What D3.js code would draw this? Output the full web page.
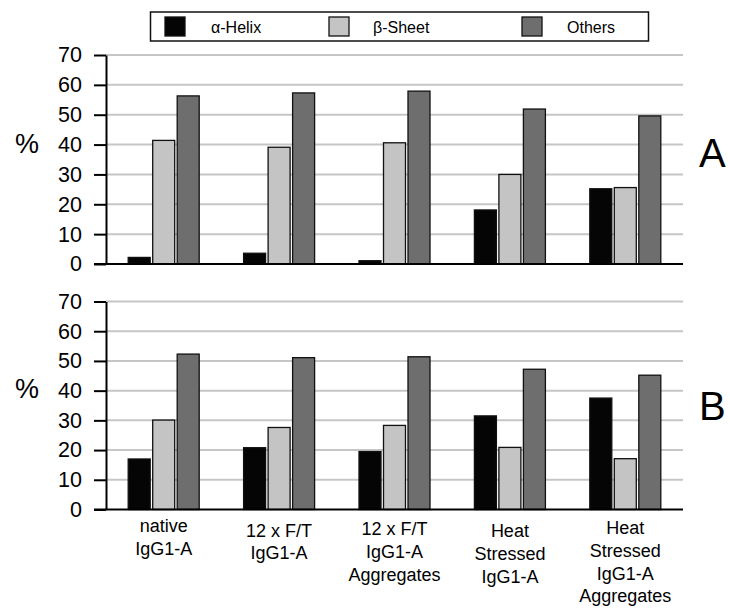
<!DOCTYPE html>
<html>
<head>
<meta charset="utf-8">
<script src="https://cdn.jsdelivr.net/npm/d3@7"></script>
<style>
  body { margin: 0; background: #fff; }
  svg { display: block; font-family: "Liberation Sans", Arial, sans-serif; }
</style>
</head>
<body>
<div id="chart"></div>
<script>
// categories (multi-line labels)
const categories = [
	["native", "IgG1-A"],
	["12 x F/T", "IgG1-A"],
	["12 x F/T", "IgG1-A", "Aggregates"],
	["Heat", "Stressed", "IgG1-A"],
	["Heat", "Stressed", "IgG1-A", "Aggregates"]
];
const seriesNames = ["\u03b1-Helix", "\u03b2-Sheet", "Others"];
const seriesColors = ["#050505", "#c4c4c4", "#6e6e6e"];

// panel A values, per category: helix, sheet, others
const helixA = [2.2, 3.6, 1.1, 18.1, 25.2];
const sheetA = [41.4, 39.1, 40.6, 30.0, 25.6];
const othersA = [56.3, 57.3, 57.9, 51.9, 49.6];

// panel B values
const helixB = [17.0, 20.8, 19.5, 31.5, 37.5];
const sheetB = [30.1, 27.6, 28.3, 20.9, 17.1];
const othersB = [52.3, 51.1, 51.4, 47.2, 45.2];

const yTicks = [0, 10, 20, 30, 40, 50, 60, 70];

const W = 730, H = 609;
const svg = d3.select('#chart').append('svg')
	.attr('width', W).attr('height', H);

const x = d3.scaleBand()
	.domain(d3.range(categories.length))
	.range([106, 683])
	.padding(0);

const barW = 22, barStep = 24.5;

function drawPanel(top, bottom, series, letter, pctY, letterY) {
	const y = d3.scaleLinear().domain([0, 70]).range([bottom, top]);
	const g = svg.append('g');

	// gridlines
	g.selectAll('line.grid')
		.data(yTicks.filter(t => t > 0))
		.enter().append('line')
			.attr('x1', 106).attr('x2', 683)
			.attr('y1', d => y(d)).attr('y2', d => y(d))
			.attr('stroke', '#c6c6c6')
			.attr('stroke-width', 2);

	// y axis with ticks pointing left
	const axis = g.append('g')
		.attr('transform', 'translate(106,0)')
		.call(d3.axisLeft(y).tickValues(yTicks).tickSize(12).tickPadding(12).tickSizeOuter(0));
	axis.select('.domain').attr('stroke', '#000').attr('stroke-width', 2);
	axis.selectAll('.tick line').attr('stroke', '#000').attr('stroke-width', 2);
	axis.selectAll('.tick text')
		.attr('font-size', 21.5)
		.attr('font-family', '"Liberation Sans", Arial, sans-serif')
		.attr('fill', '#000');

	// bars
	const rows = categories.map((c, i) => series.map((s, j) => ({ i, j, v: s[i] })));
	const groups = g.selectAll('g.cat')
		.data(rows)
		.enter().append('g')
			.attr('transform', (d, i) => `translate(${x(i) + x.bandwidth() / 2},0)`);
	groups.selectAll('rect')
		.data(d => d)
		.enter().append('rect')
			.attr('x', d => (d.j - 1) * barStep - barW / 2)
			.attr('y', d => y(d.v))
			.attr('width', barW)
			.attr('height', d => bottom - y(d.v))
			.attr('fill', d => seriesColors[d.j])
			.attr('stroke', '#111')
			.attr('stroke-width', 1.3);

	// baseline
	g.append('line')
		.attr('x1', 94).attr('x2', 683)
		.attr('y1', bottom).attr('y2', bottom)
		.attr('stroke', '#000').attr('stroke-width', 2.2);

	// % label and panel letter
	g.append('text')
		.attr('x', 15).attr('y', pctY)
		.attr('font-size', 27)
		.text('%');
	g.append('text')
		.attr('x', 699).attr('y', letterY)
		.attr('font-size', 40)
		.text(letter);
	return y;
}

drawPanel(55, 264, [helixA, sheetA, othersA], 'A', 153, 167);
drawPanel(301.5, 509.5, [helixB, sheetB, othersB], 'B', 398, 420);

// category labels
const labelShift = [532, 536.5, 535, 537, 534];
categories.forEach((lines, i) => {
	const t = svg.append('text')
		.attr('text-anchor', 'middle')
		.attr('font-size', 18)
		.attr('fill', '#000');
	lines.forEach((l, k) => {
		t.append('tspan')
			.attr('x', x(i) + x.bandwidth() / 2)
			.attr('y', labelShift[i] + k * 22.8)
			.text(l);
	});
});

// legend
const legend = svg.append('g');
legend.append('rect')
	.attr('x', 150.5).attr('y', 12).attr('width', 498).attr('height', 29)
	.attr('fill', '#fff').attr('stroke', '#111').attr('stroke-width', 1.5);
const legendX = [165, 329, 522];
const legendTextX = [211, 373, 567];
seriesNames.forEach((n, i) => {
	legend.append('rect')
		.attr('x', legendX[i]).attr('y', 17)
		.attr('width', 20).attr('height', 19)
		.attr('fill', seriesColors[i])
		.attr('stroke', '#111').attr('stroke-width', 1.3);
	legend.append('text')
		.attr('x', legendTextX[i]).attr('y', 33)
		.attr('font-size', 16)
		.attr('fill', '#000')
		.text(n);
});
</script>
</body>
</html>
